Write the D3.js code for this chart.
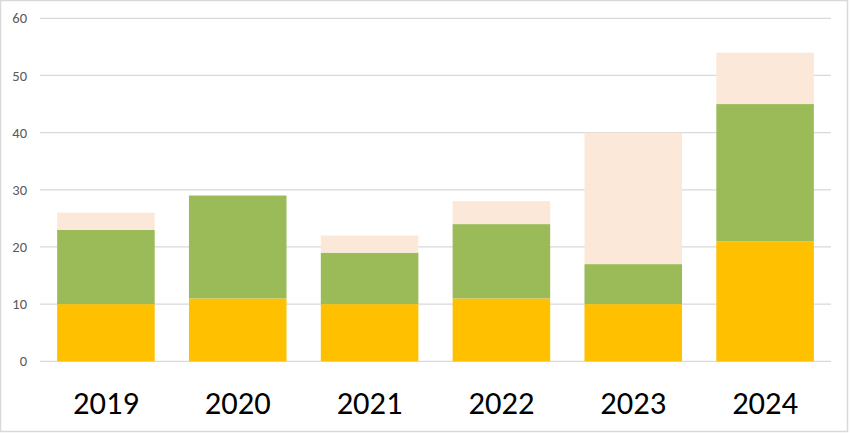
<!DOCTYPE html>
<html><head><meta charset="utf-8">
<script src="https://cdn.jsdelivr.net/npm/d3@7"></script>
<style>body{margin:0;background:#fff}svg{display:block}</style>
</head><body>
<svg id="c" width="850" height="433"></svg>
<script>
const categories = ["2019","2020","2021","2022","2023","2024"];
const seriesA = [10, 11, 10, 11, 10, 21];
const seriesB = [13, 18, 9, 13, 7, 24];
const seriesC = [3, 0, 3, 4, 23, 9];
const yTicks = [0,10,20,30,40,50,60];
const seriesKeys = ["a","b","c"];
const colors = ["#FFC000","#9BBB59","#FCE8D9"];

const data = categories.map((c,i)=>({cat:c,a:seriesA[i],b:seriesB[i],c:seriesC[i]}));
const svg = d3.select("#c");
svg.append("rect").attr("x",0.5).attr("y",0.5).attr("width",847).attr("height",431)
  .attr("fill","#fff").attr("stroke","#d9d9d9").attr("stroke-width",1.5);

const x = d3.scaleBand().domain(categories).range([40,831]).paddingInner(0.26).paddingOuter(0.13);
const y = d3.scaleLinear().domain([0,60]).range([361.3,18.3]);

svg.append("g").selectAll("line").data(yTicks).join("line")
  .attr("x1",40).attr("x2",831).attr("y1",d=>y(d)).attr("y2",d=>y(d))
  .attr("stroke","#d9d9d9").attr("stroke-width",1.2);

svg.append("g").selectAll("text").data(yTicks).join("text")
  .attr("x",27).attr("y",d=>y(d)).attr("dy","0.35em").attr("text-anchor","end")
  .attr("font-family","Carlito, Lato, sans-serif").attr("font-size",14.5)
  .attr("fill","#595959").text(d=>d);

const stack = d3.stack().keys(seriesKeys)(data);
svg.append("g").selectAll("g").data(stack).join("g").attr("fill",(d,i)=>colors[i])
  .selectAll("rect").data(d=>d).join("rect")
  .attr("x",d=>x(d.data.cat)).attr("width",x.bandwidth())
  .attr("y",d=>y(d[1])).attr("height",d=>y(d[0])-y(d[1]));

svg.append("g").selectAll("text").data(categories).join("text")
  .attr("x",d=>x(d)+x.bandwidth()/2).attr("y",414).attr("text-anchor","middle")
  .attr("font-family","Carlito, Lato, sans-serif").attr("font-size",32.5)
  .attr("fill","#000").text(d=>d);
</script>
</body></html>
